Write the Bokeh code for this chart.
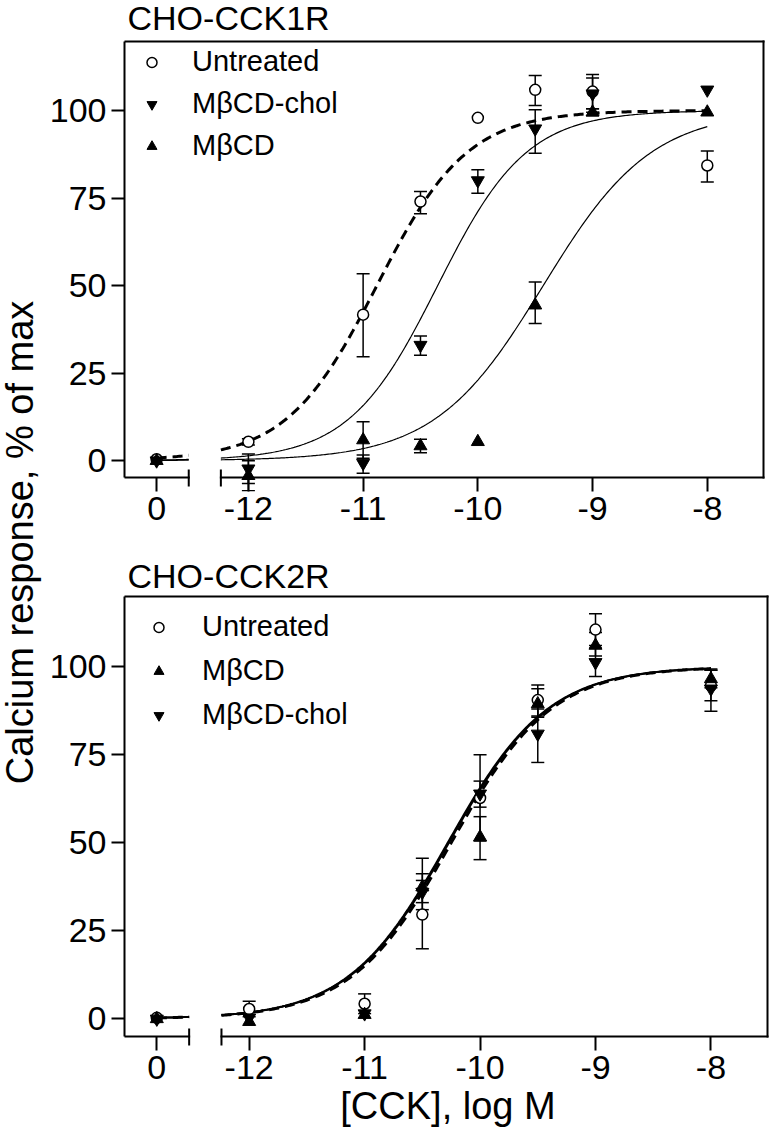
import numpy as np
from bokeh.plotting import figure
from bokeh.models import (Range1d, FixedTicker, Whisker, TeeHead, ColumnDataSource,
                          Legend, LegendItem, Arrow, Label)
from bokeh.layouts import row, column
from bokeh.embed import file_html
from bokeh.resources import INLINE
from bokeh.core.properties import value

FONT = "Liberation Sans"

# ---------------- data ----------------
CTRL = -12.8                      # axis position of the "0" (no CCK) control
BREAK = (-12.52, -12.24)          # broken x axis
X_BOX = (-13.08, -7.51)

log_cck = [CTRL, -12, -11, -10.5, -10, -9.5, -9, -8]
x_tick_vals = [CTRL, -12, -11, -10, -9, -8]
x_tick_labels = ["0", "-12", "-11", "-10", "-9", "-8"]
y_tick_vals = [0, 25, 50, 75, 100]

# CHO-CCK1R
k1_untreated = [0.4, 5.4, 41.7, 74.0, 97.9, 105.9, 105.4, 84.3]
k1_untreated_lo = [None, 4.5, 29.7, 70.5, None, 101.4, 100.5, 79.6]
k1_untreated_hi = [None, 6.3, 53.4, 76.9, None, 110.0, 110.3, 88.4]
k1_chol = [0.0, -2.3, -0.7, 33.0, 80.0, 94.8, 104.8, 105.9]
k1_chol_lo = [None, -6.5, -3.6, 30.1, 76.4, 87.8, 99.5, None]
k1_chol_hi = [None, 1.9, 1.6, 35.6, 83.1, 100.2, 109.3, None]
k1_mbcd = [0.0, -4.3, 5.9, 4.2, 5.4, 44.4, 99.5, 99.5]
k1_mbcd_lo = [None, -8.6, 0.7, 2.3, None, 39.2, 98.5, None]
k1_mbcd_hi = [None, 0.0, 11.1, 6.1, None, 51.0, 100.5, None]
# fitted curves: [logEC50, Hill slope, bottom, top]
k1_fit_untreated = [-10.88, 1.10, 0, 100]
k1_fit_chol = [-10.35, 1.12, 0, 100]
k1_fit_mbcd = [-9.43, 0.92, 0, 100]

# CHO-CCK2R
k2_untreated = [0.3, 2.8, 4.3, 29.6, 62.7, 90.5, 110.5, 94.6]
k2_untreated_lo = [None, 0.6, 1.5, 19.9, 50.5, 86.0, 106.0, 90.3]
k2_untreated_hi = [None, 5.0, 7.1, 39.3, 75.0, 94.8, 115.0, 99.0]
k2_mbcd = [0.0, -0.8, 1.2, 37.4, 51.6, 89.4, 106.0, 96.5]
k2_mbcd_lo = [None, None, None, 33.0, 45.2, 85.6, 103.0, 94.0]
k2_mbcd_hi = [None, None, None, 45.6, 57.4, 93.7, 109.7, 99.3]
k2_chol = [0.0, 0.3, 1.5, 36.0, 63.9, 80.9, 101.2, 93.7]
k2_chol_lo = [None, None, None, 31.0, 60.1, 72.8, 97.2, 87.3]
k2_chol_hi = [None, None, None, 41.2, 67.5, 88.0, 105.3, 99.0]
k2_fit_untreated = [-10.25, 1.0, 0, 100]
k2_fit_mbcd = [-10.28, 1.0, 0, 100]
k2_fit_chol = [-10.27, 1.0, 0, 100]

# ---------------- helpers ----------------
def hill(x, fit):
    ec, h, bot, top = fit
    return bot + (top - bot) / (1 + 10 ** ((ec - x) * h))

curve_x = np.concatenate([np.linspace(CTRL, BREAK[0], 20), [np.nan],
                          np.linspace(BREAK[1], -8, 300)])

MARKERS = {
    "Untreated": dict(marker="circle", size=11, fill_color="white", line_color="black", line_width=1.5),
    "M\u03b2CD-chol": dict(marker="inverted_triangle", size=13, fill_color="black", line_color="black"),
    "M\u03b2CD": dict(marker="triangle", size=13, fill_color="black", line_color="black"),
}

LEFT = 78      # y-axis area
EXT_BOT = 14   # plot frame extends below the drawn box (x ticks drawn inward)
EXT_RIGHT = 4
TICK_FONT = "34px"


def panel(title, width, height, box_top, box_h, bot_b, y_box, series, curves, legend_order,
          leg, title_dy, xlabel=None):
    box_w = width - LEFT - EXT_RIGHT
    ppu_x = box_w / (X_BOX[1] - X_BOX[0])
    ppu_y = box_h / (y_box[1] - y_box[0])
    x_rng = (X_BOX[0], X_BOX[1] + EXT_RIGHT / ppu_x)
    y_rng = (y_box[0] - EXT_BOT / ppu_y, y_box[1] + box_top / ppu_y)
    p = figure(width=width, height=height, x_range=Range1d(*x_rng), y_range=Range1d(*y_rng),
               output_backend="svg", toolbar_location=None,
               min_border_left=LEFT, min_border_right=0, min_border_top=0, min_border_bottom=bot_b)
    p.outline_line_color = None
    p.grid.visible = False
    p.background_fill_color = "white"
    p.border_fill_color = "white"

    # axes
    p.xaxis.ticker = FixedTicker(ticks=x_tick_vals)
    p.xaxis.major_label_overrides = dict(zip(x_tick_vals, x_tick_labels))
    p.yaxis.ticker = FixedTicker(ticks=y_tick_vals)
    p.yaxis.major_label_overrides = {v: str(v) for v in y_tick_vals}
    for ax in (p.xaxis[0], p.yaxis[0]):
        ax.minor_tick_line_color = None
        ax.major_tick_line_width = 2
        ax.major_tick_line_color = "black"
        ax.major_label_text_font = FONT
        ax.major_label_text_font_size = TICK_FONT
        ax.major_label_text_color = "black"
    p.xaxis.major_tick_in = EXT_BOT
    p.xaxis.major_tick_out = 0
    p.xaxis.major_label_standoff = 5
    p.xaxis.axis_line_color = None
    p.yaxis.major_tick_in = 0
    p.yaxis.major_tick_out = 13
    p.yaxis.major_label_standoff = 5
    p.yaxis.axis_line_width = 2
    p.yaxis.axis_line_color = "black"
    p.yaxis.bounds = y_box
    if xlabel:
        p.xaxis.axis_label = xlabel
        p.xaxis.axis_label_text_font = FONT
        p.xaxis.axis_label_text_font_size = "38px"
        p.xaxis.axis_label_text_font_style = "normal"
        p.xaxis.axis_label_text_color = "black"
        p.xaxis.axis_label_standoff = 3

    # box with broken bottom line
    x0, x1 = X_BOX
    y0, y1 = y_box
    segs = [(x0, y1, x1, y1), (x1, y0, x1, y1), (x0, y0, BREAK[0], y0), (BREAK[1], y0, x1, y0),
            (BREAK[0], y0 + 7 / ppu_y, BREAK[0], y0 - 8 / ppu_y),
            (BREAK[1], y0 + 7 / ppu_y, BREAK[1], y0 - 8 / ppu_y)]
    for xs, ys, xe, ye in segs:
        p.add_layout(Arrow(x_start=xs, y_start=ys, x_end=xe, y_end=ye, start=None, end=None,
                           line_width=2, line_color="black", line_cap="square"))

    # curves
    for fit, dash, lw in curves:
        p.line(curve_x, hill(curve_x, fit), line_color="black", line_width=lw, line_dash=dash)

    # error bars + points
    for name, (ys, lo, hi) in series.items():
        idx = [i for i in range(len(log_cck)) if lo[i] is not None]
        src = ColumnDataSource(dict(x=[log_cck[i] for i in idx], lo=[lo[i] for i in idx],
                                    hi=[hi[i] for i in idx]))
        p.add_layout(Whisker(base="x", lower="lo", upper="hi", source=src, dimension="height",
                             line_width=1.5, line_color="black",
                             upper_head=TeeHead(size=13, line_width=1.5, line_color="black"),
                             lower_head=TeeHead(size=13, line_width=1.5, line_color="black")))
    rend = {}
    for name in ["Untreated", "M\u03b2CD-chol", "M\u03b2CD"]:
        rend[name] = p.scatter(log_cck, series[name][0], **MARKERS[name])

    n = len(legend_order)
    leg_h = n * leg["h"] + (n - 1) * leg["spacing"]
    loc_y = (box_h + EXT_BOT) - (leg["top"] + leg_h)
    legend = Legend(items=[LegendItem(label=nm, renderers=[rend[nm]]) for nm in legend_order],
                    location=(leg["left"], loc_y), margin=0, padding=0, spacing=leg["spacing"],
                    glyph_width=leg["gw"], glyph_height=leg["h"], label_height=leg["h"],
                    label_standoff=leg["standoff"], label_text_font=FONT, label_text_font_size="29px",
                    label_text_color="black", border_line_color=None, background_fill_alpha=0)
    p.add_layout(legend)

    p.add_layout(Label(x=x0 + 3 / ppu_x, y=y1 + title_dy / ppu_y, text=title, text_font=FONT,
                       text_font_size="34px", text_color="black", text_baseline="alphabetic"))
    return p


FIG_Y_W = 124 - LEFT
H1, H2 = 537, 603
p1 = panel("CHO-CCK1R", LEFT + 639 + EXT_RIGHT, H1, 41, 436, H1 - 41 - 436 - EXT_BOT, (-4.8, 119.7),
           {"Untreated": (k1_untreated, k1_untreated_lo, k1_untreated_hi),
            "M\u03b2CD-chol": (k1_chol, k1_chol_lo, k1_chol_hi),
            "M\u03b2CD": (k1_mbcd, k1_mbcd_lo, k1_mbcd_hi)},
           [(k1_fit_chol, "solid", 1.2), (k1_fit_mbcd, "solid", 1.2), (k1_fit_untreated, "10 6", 3)],
           ["Untreated", "M\u03b2CD-chol", "M\u03b2CD"],
           dict(left=15, top=3.7, h=34, spacing=8, gw=25, standoff=28), 23.7)

p2 = panel("CHO-CCK2R", LEFT + 643 + EXT_RIGHT, H2, 59, 440, H2 - 59 - 440 - EXT_BOT, (-5.0, 119.9),
           {"Untreated": (k2_untreated, k2_untreated_lo, k2_untreated_hi),
            "M\u03b2CD-chol": (k2_chol, k2_chol_lo, k2_chol_hi),
            "M\u03b2CD": (k2_mbcd, k2_mbcd_lo, k2_mbcd_hi)},
           [(k2_fit_mbcd, "solid", 2), (k2_fit_chol, "solid", 2), (k2_fit_untreated, "10 6", 3)],
           ["Untreated", "M\u03b2CD", "M\u03b2CD-chol"],
           dict(left=22, top=13.7, h=34, spacing=10, gw=25, standoff=31), 20.3,
           xlabel="[CCK], log M")

fy = figure(width=FIG_Y_W, height=H1 + H2, x_range=Range1d(0, FIG_Y_W), y_range=Range1d(0, H1 + H2),
            output_backend="svg", toolbar_location=None, min_border=0,
            x_axis_type=None, y_axis_type=None)
fy.grid.visible = False
fy.outline_line_color = None
fy.text(x=[19], y=[H1 + H2 - 542], text=["Calcium response, % of max"], angle=np.pi / 2,
        text_font=value(FONT), text_font_size=value("38px"), text_align="center",
        text_baseline="alphabetic", text_color="black")

layout = row(fy, column(p1, p2))
open("out.html", "w").write(file_html(layout, INLINE))
